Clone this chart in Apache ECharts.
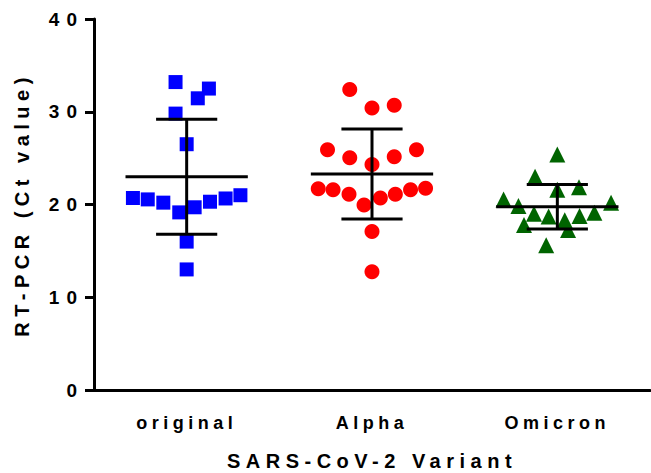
<!DOCTYPE html>
<html><head><meta charset="utf-8">
<script src="https://cdn.jsdelivr.net/npm/echarts@6/dist/echarts.min.js"></script>
<style>
html,body{margin:0;padding:0;background:#fff;overflow:hidden;}
#c{width:651px;height:473px;}
#c svg text{letter-spacing:4.5px;}
</style></head><body><div id="c"></div>
<script>
const categories = ['original', 'Alpha', 'Omicron'];
const yTicks = [0, 10, 20, 30, 40];
const xTitle = 'SARS-CoV-2 Variant';
const yTitle = 'RT-PCR (Ct value)';
const originalCt = [33.2, 32.5, 31.45, 29.8, 26.5, 20.7, 20.55, 20.2, 19.15, 19.7, 20.3, 20.65, 21.0, 16.0, 13.0];
const originalJitter = [-0.06, 0.12, 0.06, -0.06, 0, -0.29, -0.21, -0.126, -0.04, 0.043, 0.126, 0.21, 0.29, 0, 0];
const alphaCt = [32.4, 30.4, 30.7, 25.9, 25.05, 24.3, 25.15, 25.9, 21.7, 21.6, 21.1, 19.95, 20.7, 21.1, 21.6, 21.75, 17.1, 12.75];
const alphaJitter = [-0.12, 0, 0.12, -0.24, -0.12, 0, 0.12, 0.24, -0.29, -0.21, -0.124, -0.043, 0.045, 0.126, 0.208, 0.289, 0, 0];
const omicronCt = [25.4, 23.0, 21.6, 21.85, 20.55, 19.85, 19.0, 18.7, 18.3, 18.75, 19.1, 20.2, 17.8, 17.25, 15.6];
const omicronJitter = [0, -0.12, 0, 0.117, -0.29, -0.21, -0.126, -0.047, 0.04, 0.12, 0.2, 0.29, -0.18, 0.058, -0.06];
const means = [23.0, 23.3, 19.75];
const sds = [6.2, 4.85, 2.4];

function pts(ct, jit, idx) { return ct.map((v, i) => [idx + 0.5 + jit[i], v]); }

const chart = echarts.init(document.getElementById('c'), null, {renderer: 'svg'});
const font = 'Liberation Sans, Arial, sans-serif';
chart.setOption({
  animation: false,
  grid: {left: 94, right: 1, top: 19, bottom: 83, containLabel: false, outerBoundsMode: 'none'},
  xAxis: [{
    type: 'category', data: categories, boundaryGap: true,
    axisLine: {lineStyle: {color: '#000', width: 3}},
    axisTick: {alignWithLabel: true, length: 9, lineStyle: {color: '#000', width: 3}},
    axisLabel: {color: '#000', fontWeight: 'bold', fontSize: 18, fontFamily: font, margin: 24},
    name: xTitle, nameLocation: 'middle', nameGap: 61,
    nameTextStyle: {color: '#000', fontWeight: 'bold', fontSize: 20, lineHeight: 20, fontFamily: font}
  }, {
    type: 'value', min: 0, max: 3, show: false
  }],
  yAxis: {
    type: 'value', min: yTicks[0], max: yTicks[yTicks.length - 1], interval: 10,
    splitLine: {show: false},
    axisLine: {show: true, lineStyle: {color: '#000', width: 3}},
    axisTick: {show: true, length: 9, lineStyle: {color: '#000', width: 3}},
    axisLabel: {color: '#000', fontWeight: 'bold', fontSize: 19, fontFamily: font, margin: 10},
    name: yTitle, nameLocation: 'middle', nameGap: 62, nameRotate: 90,
    nameTextStyle: {color: '#000', fontWeight: 'bold', fontSize: 20, fontFamily: font}
  },
  series: [
    {type: 'scatter', xAxisIndex: 1, symbol: 'rect', symbolSize: 14, itemStyle: {color: '#0000ff', opacity: 1}, data: pts(originalCt, originalJitter, 0)},
    {type: 'scatter', xAxisIndex: 1, symbol: 'circle', symbolSize: 15, itemStyle: {color: '#ff0000', opacity: 1}, data: pts(alphaCt, alphaJitter, 1)},
    {type: 'scatter', xAxisIndex: 1, symbol: 'triangle', symbolSize: 16, itemStyle: {color: '#006400', opacity: 1}, data: pts(omicronCt, omicronJitter, 2)},
    {
      type: 'custom', xAxisIndex: 0, z: 10,
      data: means.map((m, i) => [i, m, sds[i]]),
      encode: {x: 0, y: 1},
      renderItem: function (params, api) {
        const i = api.value(0), m = api.value(1), s = api.value(2);
        const c = api.coord([i, m]);
        const t = api.coord([i, m + s]);
        const b = api.coord([i, m - s]);
        const band = api.size([1, 0])[0];
        const mh = band * 0.33, ch = band * 0.165;
        const st = {stroke: '#000', lineWidth: 3};
        return {type: 'group', children: [
          {type: 'line', shape: {x1: c[0] - mh, y1: c[1], x2: c[0] + mh, y2: c[1]}, style: st},
          {type: 'line', shape: {x1: c[0], y1: t[1], x2: c[0], y2: b[1]}, style: st},
          {type: 'line', shape: {x1: c[0] - ch, y1: t[1], x2: c[0] + ch, y2: t[1]}, style: st},
          {type: 'line', shape: {x1: c[0] - ch, y1: b[1], x2: c[0] + ch, y2: b[1]}, style: st}
        ]};
      }
    }
  ]
});

function spaceText() {
  const tickStr = yTicks.map(String);
  document.querySelectorAll('#c svg text').forEach(function (el) {
    const s = el.textContent;
    if (s === xTitle || s === yTitle) el.style.letterSpacing = '5.5px';
    else if (tickStr.indexOf(s) >= 0) el.style.letterSpacing = '7px';
  });
}
spaceText();
chart.on('finished', spaceText);
</script></body></html>
